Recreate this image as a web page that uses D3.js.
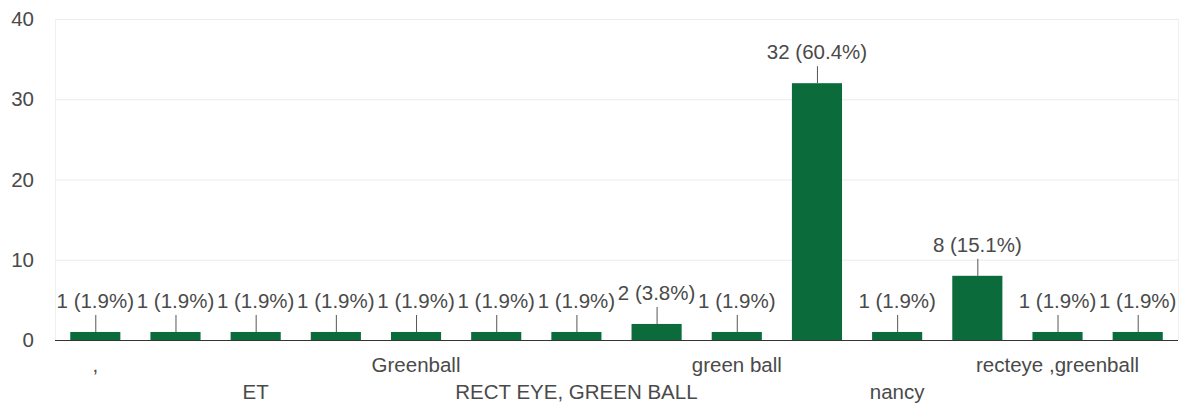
<!DOCTYPE html>
<html>
<head>
<meta charset="utf-8">
<script src="https://cdn.jsdelivr.net/npm/d3@7"></script>
<style>
  body { margin: 0; background: #fff; }
  text { font-family: "Liberation Sans", Arial, sans-serif; }
</style>
</head>
<body>
<div id="graph"></div>
<script>
// answers (only every other label fits on the axis)
const labels = [',', '', 'ET', '', 'Greenball', '', 'RECT EYE, GREEN BALL', '', 'green ball', '', 'nancy', '', 'recteye ,greenball', ''];
const counts = [1, 1, 1, 1, 1, 1, 1, 2, 1, 32, 1, 8, 1, 1];
const percents = ['1.9', '1.9', '1.9', '1.9', '1.9', '1.9', '1.9', '3.8', '1.9', '60.4', '1.9', '15.1', '1.9', '1.9'];
const yTicks = [0, 10, 20, 30, 40];

drawChart();

// Draw chart
function drawChart() {
  const width = 1189;
  const height = 406;
  const left = 55, right = 1178, top = 19, bottom = 340;
  const fontSize = 20.5;
  const textColor = '#4a4a4a';

  const svg = d3.select('#graph')
      .append('svg')
      .attr('width', width)
      .attr('height', height);

  const x = d3.scaleBand()
      .domain(d3.range(counts.length))
      .range([left, right])
      .paddingInner(0.375)
      .paddingOuter(0.19);

  const y = d3.scaleLinear()
      .domain([0, 40])
      .range([bottom, top]);

  // gridlines
  svg.selectAll('line.grid')
      .data(yTicks.slice(1))
      .enter()
      .append('line')
      .attr('x1', left)
      .attr('x2', right)
      .attr('y1', d => y(d) + 0.5)
      .attr('y2', d => y(d) + 0.5)
      .attr('stroke', '#ebebeb');

  // left / right frame
  [left, right].forEach(function(px) {
    svg.append('line')
        .attr('x1', px + 0.5).attr('x2', px + 0.5)
        .attr('y1', top).attr('y2', bottom)
        .attr('stroke', '#f0f0f0');
  });

  // y tick labels
  svg.selectAll('text.ytick')
      .data(yTicks)
      .enter()
      .append('text')
      .attr('x', 34)
      .attr('y', d => y(d) + 7)
      .attr('text-anchor', 'end')
      .attr('font-size', fontSize)
      .attr('fill', textColor)
      .text(d => d);

  // bars
  svg.selectAll('rect.bar')
      .data(counts)
      .enter()
      .append('rect')
      .attr('x', (d, i) => x(i))
      .attr('y', d => y(d))
      .attr('width', x.bandwidth())
      .attr('height', d => y(0) - y(d))
      .attr('fill', '#0b6b3a');

  // baseline
  svg.append('line')
      .attr('x1', left).attr('x2', right)
      .attr('y1', bottom + 0.5).attr('y2', bottom + 0.5)
      .attr('stroke', '#333');

  // leader lines and value labels
  const cx = i => x(i) + x.bandwidth() / 2;
  svg.selectAll('line.leader')
      .data(counts)
      .enter()
      .append('line')
      .attr('x1', (d, i) => cx(i) + 0.5)
      .attr('x2', (d, i) => cx(i) + 0.5)
      .attr('y1', d => y(d) - 17)
      .attr('y2', d => y(d))
      .attr('stroke', '#555');

  svg.selectAll('text.value')
      .data(counts)
      .enter()
      .append('text')
      .attr('x', (d, i) => cx(i))
      .attr('y', d => y(d) - 24)
      .attr('text-anchor', 'middle')
      .attr('font-size', fontSize)
      .attr('fill', textColor)
      .text((d, i) => d + ' (' + percents[i] + '%)');

  // category labels, alternating rows
  svg.selectAll('text.cat')
      .data(labels)
      .enter()
      .append('text')
      .attr('x', (d, i) => cx(i))
      .attr('y', (d, i) => (i % 4 === 0) ? 372 : 399)
      .attr('text-anchor', 'middle')
      .attr('font-size', fontSize)
      .attr('fill', textColor)
      .text(d => d);
}
</script>
</body>
</html>
